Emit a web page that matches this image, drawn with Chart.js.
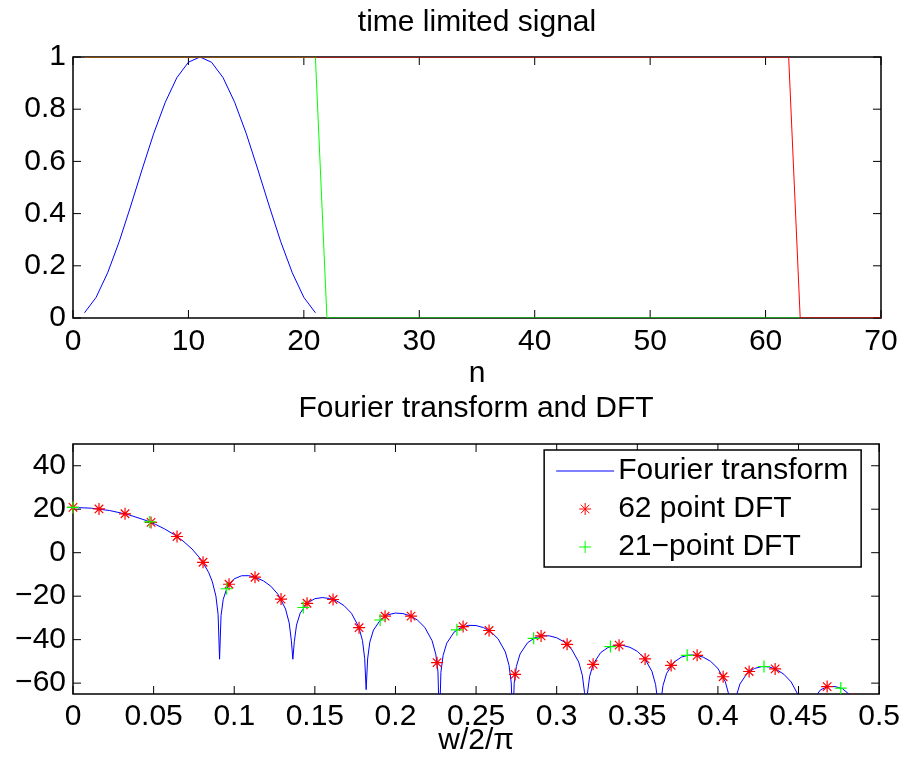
<!DOCTYPE html>
<html>
<head>
<meta charset="utf-8">
<script src="https://cdn.jsdelivr.net/npm/chart.js@4.4.1/dist/chart.umd.min.js"></script>
<style>
  body { margin: 0; background: #fff; }
  #wrap { position: relative; width: 905px; height: 766px; }
  canvas { position: absolute; left: 0; }
</style>
</head>
<body>
<div id="wrap">
  <canvas id="timePlot" width="905" height="395" style="top:0"></canvas>
  <canvas id="freqPlot" width="905" height="386" style="top:380px"></canvas>
</div>
<script>
// ---- top plot: time limited signal ----
const hannN = [1, 2, 3, 4, 5, 6, 7, 8, 9, 10, 11, 12, 13, 14, 15, 16, 17, 18, 19, 20, 21];
const hannVals = [0.02, 0.079, 0.173, 0.292, 0.429, 0.571, 0.708, 0.827, 0.921, 0.98, 1,
                  0.98, 0.921, 0.827, 0.708, 0.571, 0.429, 0.292, 0.173, 0.079, 0.02];
const rect21N = [1, 21, 22, 63];
const rect21Vals = [1, 1, 0, 0];
const rect62N = [1, 62, 63, 70];
const rect62Vals = [1, 1, 0, 0];
const nTicks = [0, 10, 20, 30, 40, 50, 60, 70];
const ampTicks = [0, 0.2, 0.4, 0.6, 0.8, 1];

// ---- bottom plot: Fourier transform (dB) and DFT samples ----
const ftFreq = [
  0, 0.01136, 0.02273, 0.03409, 0.04545, 0.05114, 0.05682, 0.0625, 0.06818, 0.07386,
  0.07955, 0.08409, 0.08636, 0.08864, 0.09, 0.09091,
  0.09182, 0.09318, 0.09545, 0.1, 0.10455, 0.10909, 0.11364, 0.11818, 0.12273, 0.12727, 0.13182, 0.13409, 0.13545, 0.13636,
  0.13727, 0.13864, 0.14091, 0.14545, 0.15, 0.15455, 0.15909, 0.16364, 0.16818, 0.17273, 0.17727, 0.17955, 0.18091, 0.18182,
  0.18273, 0.18409, 0.18636, 0.19091, 0.19545, 0.2, 0.20455, 0.20909, 0.21364, 0.21818, 0.22273, 0.225, 0.22636, 0.22727,
  0.22818, 0.22955, 0.23182, 0.23636, 0.24091, 0.24545, 0.25, 0.25455, 0.25909, 0.26364, 0.26818, 0.27045, 0.27182, 0.27273,
  0.27364, 0.275, 0.27727, 0.28182, 0.28636, 0.29091, 0.29545, 0.3, 0.30455, 0.30909, 0.31364, 0.31591, 0.31727, 0.31818,
  0.31909, 0.32045, 0.32273, 0.32727, 0.33182, 0.33636, 0.34091, 0.34545, 0.35, 0.35455, 0.35909, 0.36136, 0.36273, 0.36364,
  0.36455, 0.36591, 0.36818, 0.37273, 0.37727, 0.38182, 0.38636, 0.39091, 0.39545, 0.4, 0.40455, 0.40682, 0.40818, 0.40909,
  0.41, 0.41136, 0.41364, 0.41818, 0.42273, 0.42727, 0.43182, 0.43636, 0.44091, 0.44545, 0.45, 0.45227, 0.45455,
  0.45682, 0.45909, 0.46364, 0.46818, 0.47273, 0.47727, 0.48182, 0.48636, 0.49091, 0.5
];
const ftDb = [
  20.83, 20.48, 19.4, 17.55, 14.81, 13.03, 10.93, 8.44, 5.43, 1.68,
  -3.27, -9.0, -13.22, -19.98, -28.4, -49,
  -28.99, -21.47, -16.24, -12.02, -10.61, -10.57, -11.49, -12.98, -15.43, -19.26, -25.89, -32.33, -40.57, -49,
  -40.95, -33.28, -27.8, -23.09, -21.17, -20.64, -21.06, -22.24, -24.37, -27.89, -34.2, -40.48, -48.63, -63,
  -48.91, -41.17, -35.59, -30.66, -28.52, -27.77, -27.98, -29.0, -30.98, -34.33, -40.49, -46.69, -54.8, -80,
  -55.02, -47.24, -41.6, -36.55, -34.29, -33.42, -33.51, -34.44, -36.33, -39.6, -45.67, -51.83, -59.9, -80,
  -60.09, -52.3, -46.62, -41.5, -39.18, -38.24, -38.26, -39.14, -40.99, -44.21, -50.24, -56.37, -64.43, -80,
  -64.61, -56.81, -51.11, -45.97, -43.62, -42.66, -42.65, -43.53, -45.37, -48.58, -54.6, -60.73, -68.79, -80,
  -68.97, -61.18, -55.5, -50.37, -48.05, -47.1, -47.12, -48.06, -49.96, -53.24, -59.32, -65.48, -73.6, -85,
  -73.78, -66.02, -60.41, -55.41, -53.22, -52.4, -52.55, -53.76, -55.92, -59.47, -65.81, -72.1, -90,
  -73.0, -67.62, -63.08, -61.54, -61.58, -62.58, -65.39, -69.28, -75, -100
];
const dft62Freq = [0, 0.01613, 0.03226, 0.04839, 0.06452, 0.08065, 0.09677, 0.1129, 0.12903, 0.14516,
  0.16129, 0.17742, 0.19355, 0.20968, 0.22581, 0.24194, 0.25806, 0.27419, 0.29032, 0.30645,
  0.32258, 0.33871, 0.35484, 0.37097, 0.3871, 0.40323, 0.41935, 0.43548, 0.45161, 0.46774, 0.48387];
const dft62Db = [20.83, 20.12, 17.9, 13.93, 7.44, -4.41, -14.52, -11.28, -21.33, -23.27,
  -21.52, -34.5, -29.21, -29.19, -50.57, -33.99, -35.8, -56.0, -38.3, -42.13,
  -51.37, -42.54, -48.85, -51.86, -47.21, -57.06, -54.66, -53.45, -69.8, -61.6, -67.3];
const dft21Freq = [0, 0.04762, 0.09524, 0.14286, 0.19048, 0.2381, 0.28571, 0.33333, 0.38095, 0.42857, 0.47619];
const dft21Db = [20.83, 14.17, -16.59, -25.22, -30.95, -35.48, -39.41, -43.18, -47.2, -52.35, -62.26];
const freqTicks = [0, 0.05, 0.1, 0.15, 0.2, 0.25, 0.3, 0.35, 0.4, 0.45, 0.5];
const dbTicks = [-60, -40, -20, 0, 20, 40];

const pairs = (xs, ys) => xs.map((x, i) => ({ x: x, y: ys[i] }));
const label = v => String(v).replace('-', '\u2212');

const FONT = '"Liberation Sans", Arial, Helvetica, sans-serif';
Chart.defaults.font.family = FONT;
Chart.defaults.font.size = 30;
Chart.defaults.color = '#000';
Chart.defaults.animation = false;

// matlab style box with inward ticks on all four sides
const matlabBox = {
  id: 'matlabBox',
  beforeDatasetsDraw(chart) {
    const { ctx, chartArea: a, scales: { x, y } } = chart;
    const tl = 8;
    ctx.save();
    ctx.strokeStyle = '#000';
    ctx.lineWidth = 1;
    ctx.beginPath();
    x.ticks.forEach(t => {
      const px = x.getPixelForValue(t.value);
      ctx.moveTo(px, a.bottom); ctx.lineTo(px, a.bottom - tl);
      ctx.moveTo(px, a.top); ctx.lineTo(px, a.top + tl);
    });
    y.ticks.forEach(t => {
      const py = y.getPixelForValue(t.value);
      ctx.moveTo(a.left, py); ctx.lineTo(a.left + tl, py);
      ctx.moveTo(a.right, py); ctx.lineTo(a.right - tl, py);
    });
    ctx.stroke();
    ctx.lineWidth = 1.5;
    ctx.strokeRect(a.left, a.top, a.right - a.left, a.bottom - a.top);
    ctx.restore();
  }
};

// boxed legend in the upper right corner of the plot
const boxLegend = {
  id: 'boxLegend',
  afterDatasetsDraw(chart) {
    const { ctx, chartArea: a } = chart;
    const w = 317, h = 117;
    const left = a.right - 18 - w, top = a.top + 6;
    const rowY = [21, 59, 97];
    ctx.save();
    ctx.fillStyle = '#fff';
    ctx.fillRect(left, top, w, h);
    ctx.strokeStyle = '#000';
    ctx.lineWidth = 1.5;
    ctx.strokeRect(left, top, w, h);
    chart.data.datasets.forEach((ds, i) => {
      const cy = top + rowY[i];
      const cx = left + 41;
      ctx.strokeStyle = ds.borderColor;
      ctx.lineWidth = 1;
      ctx.beginPath();
      if (ds.showLine !== false) {
        ctx.moveTo(left + 12, cy); ctx.lineTo(left + 70, cy);
      } else {
        const r = ds.pointRadius;
        ctx.moveTo(cx - r, cy); ctx.lineTo(cx + r, cy);
        ctx.moveTo(cx, cy - r); ctx.lineTo(cx, cy + r);
        if (ds.pointStyle === 'star') {
          const d = r * Math.SQRT1_2;
          ctx.moveTo(cx - d, cy - d); ctx.lineTo(cx + d, cy + d);
          ctx.moveTo(cx - d, cy + d); ctx.lineTo(cx + d, cy - d);
        }
      }
      ctx.stroke();
      ctx.fillStyle = '#000';
      ctx.font = '30px ' + FONT;
      ctx.textBaseline = 'middle';
      ctx.textAlign = 'left';
      ctx.fillText(ds.label, left + 74, cy);
    });
    ctx.restore();
  }
};

function axis(ticksArr, fitKey, fitVal, pad, titleText, titlePad) {
  return {
    type: 'linear',
    min: ticksArr[0],
    max: ticksArr[ticksArr.length - 1],
    grid: { display: false, drawTicks: false },
    border: { display: false },
    afterBuildTicks: s => { s.ticks = ticksArr.map(v => ({ value: v })); },
    afterFit: s => { s[fitKey] = fitVal; },
    ticks: { padding: pad, autoSkip: false, maxRotation: 0, callback: label },
    title: titleText ? { display: true, text: titleText, padding: { top: 0, bottom: titlePad } } : { display: false }
  };
}

new Chart(document.getElementById('timePlot'), {
  type: 'line',
  data: {
    datasets: [
      { data: pairs(hannN, hannVals), borderColor: '#0000ff', borderWidth: 1, pointRadius: 0, order: 2 },
      { data: pairs(rect21N, rect21Vals), borderColor: '#00ff00', borderWidth: 1, pointRadius: 0, order: 1 },
      { data: pairs(rect62N, rect62Vals), borderColor: '#ff0000', borderWidth: 1, pointRadius: 0, order: 0 }
    ]
  },
  options: {
    responsive: false,
    layout: { padding: { left: 0, right: 24, top: 0, bottom: 0 } },
    plugins: {
      legend: { display: false },
      tooltip: { enabled: false },
      title: { display: true, fullSize: false, text: 'time limited signal', font: { size: 30, weight: 'normal' }, padding: { top: 4.5, bottom: 16.5 } }
    },
    scales: {
      x: axis(nTicks, 'height', 77, 6, 'n', 3),
      y: axis(ampTicks, 'width', 73, 7, null, 0)
    }
  },
  plugins: [matlabBox]
});

const yBottom = axis(dbTicks, 'width', 73, 7, null, 0);
yBottom.min = -65;
yBottom.max = 50;

new Chart(document.getElementById('freqPlot'), {
  type: 'line',
  data: {
    datasets: [
      { label: 'Fourier transform', data: pairs(ftFreq, ftDb), borderColor: '#0000ff', borderWidth: 1, pointRadius: 0, order: 2 },
      { label: '62 point DFT', data: pairs(dft62Freq, dft62Db), showLine: false, borderColor: '#ff0000', backgroundColor: '#ff0000',
        pointStyle: 'star', pointRadius: 6, pointBorderWidth: 1.2, order: 1, clip: { left: false, top: false, right: false, bottom: 0 } },
      { label: '21\u2212point DFT', data: pairs(dft21Freq, dft21Db), showLine: false, borderColor: '#00ff00', backgroundColor: '#00ff00',
        pointStyle: 'cross', pointRadius: 6, pointBorderWidth: 1.2, order: 0, clip: { left: false, top: false, right: false, bottom: 0 } }
    ]
  },
  options: {
    responsive: false,
    layout: { padding: { left: 0, right: 24, top: 0, bottom: 0 } },
    plugins: {
      legend: { display: false },
      tooltip: { enabled: false },
      title: { display: true, fullSize: false, text: 'Fourier transform and DFT', font: { size: 30, weight: 'normal' }, padding: { top: 11, bottom: 17 } }
    },
    scales: {
      x: axis(freqTicks, 'height', 72, 5, 'w/2/\u03c0', 7),
      y: yBottom
    }
  },
  plugins: [matlabBox, boxLegend]
});
</script>
</body>
</html>
